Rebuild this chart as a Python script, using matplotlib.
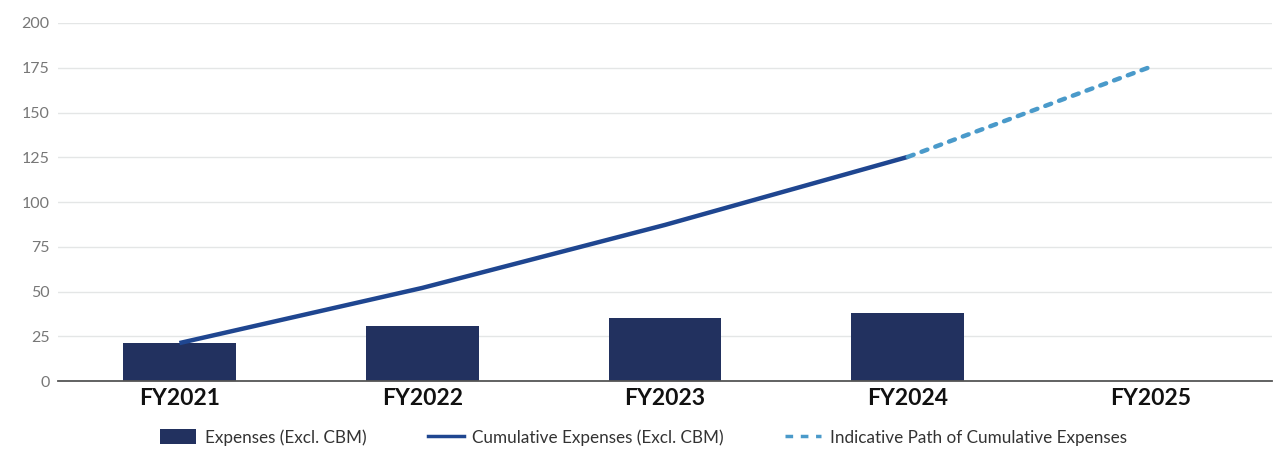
import matplotlib
matplotlib.use("Agg")
import matplotlib.pyplot as plt
from matplotlib.lines import Line2D
from matplotlib.patches import Patch

plt.rcParams['font.family'] = ['Lato', 'DejaVu Sans']

categories = ["FY2021", "FY2022", "FY2023", "FY2024", "FY2025"]
expenses = [21.2, 30.8, 35.2, 38.0]
cumulative = [21.2, 52.0, 87.2, 125.2]
indicative_x = ["FY2024", "FY2025"]
indicative = [125.2, 175.5]
yticks = [0, 25, 50, 75, 100, 125, 150, 175, 200]

bar_color = "#22315f"
line_color = "#1f4690"
dash_color = "#4a9aca"

fig = plt.figure(figsize=(12.87, 4.5), dpi=100)
ax = fig.add_axes([0.0451, 0.1533, 0.9432, 0.7956])

xpos = {c: i for i, c in enumerate(categories)}
ax.bar([xpos[c] for c in categories[:len(expenses)]], expenses, width=0.465,
       color=bar_color, zorder=2)
ax.plot([xpos[c] for c in categories[:len(cumulative)]], cumulative,
        color=line_color, lw=3.2, solid_capstyle='butt', zorder=3)
ax.plot([xpos[c] for c in indicative_x], indicative, color=dash_color, lw=3.2,
        linestyle=(0, (1.4, 1.9)), dash_capstyle='round', zorder=3)

ax.set_xlim(-0.5, len(categories) - 0.5)
ax.set_ylim(0, 200)
ax.set_yticks(yticks)
ax.set_xticks(range(len(categories)))
ax.set_xticklabels(categories, fontsize=16.5, fontweight='bold', color='#111111')
ax.tick_params(axis='y', length=0, labelsize=11.5, labelcolor='#777777', pad=6)
ax.tick_params(axis='x', length=0, pad=5)
ax.grid(axis='y', color='#e4e6e6', lw=1, zorder=0)
for s in ['top', 'right', 'left']:
    ax.spines[s].set_visible(False)
ax.spines['bottom'].set_color('#555555')
ax.spines['bottom'].set_linewidth(1.3)
ax.spines['bottom'].set_zorder(4)

handles = [
    Patch(facecolor=bar_color, edgecolor='none'),
    Line2D([0], [0], color=line_color, lw=2.5),
    Line2D([0], [0], color=dash_color, lw=2.5, linestyle=(0, (2.2, 2.2))),
]
labels = ["Expenses (Excl. CBM)", "Cumulative Expenses (Excl. CBM)",
          "Indicative Path of Cumulative Expenses"]
fig.legend(handles, labels, loc='center', bbox_to_anchor=(0.5, 0.028), ncol=3,
           frameon=False, fontsize=12.3, handlelength=2.1, handleheight=1.0,
           columnspacing=3.6, handletextpad=0.5, labelcolor='#333333')

fig.savefig("out.png", dpi=100)
